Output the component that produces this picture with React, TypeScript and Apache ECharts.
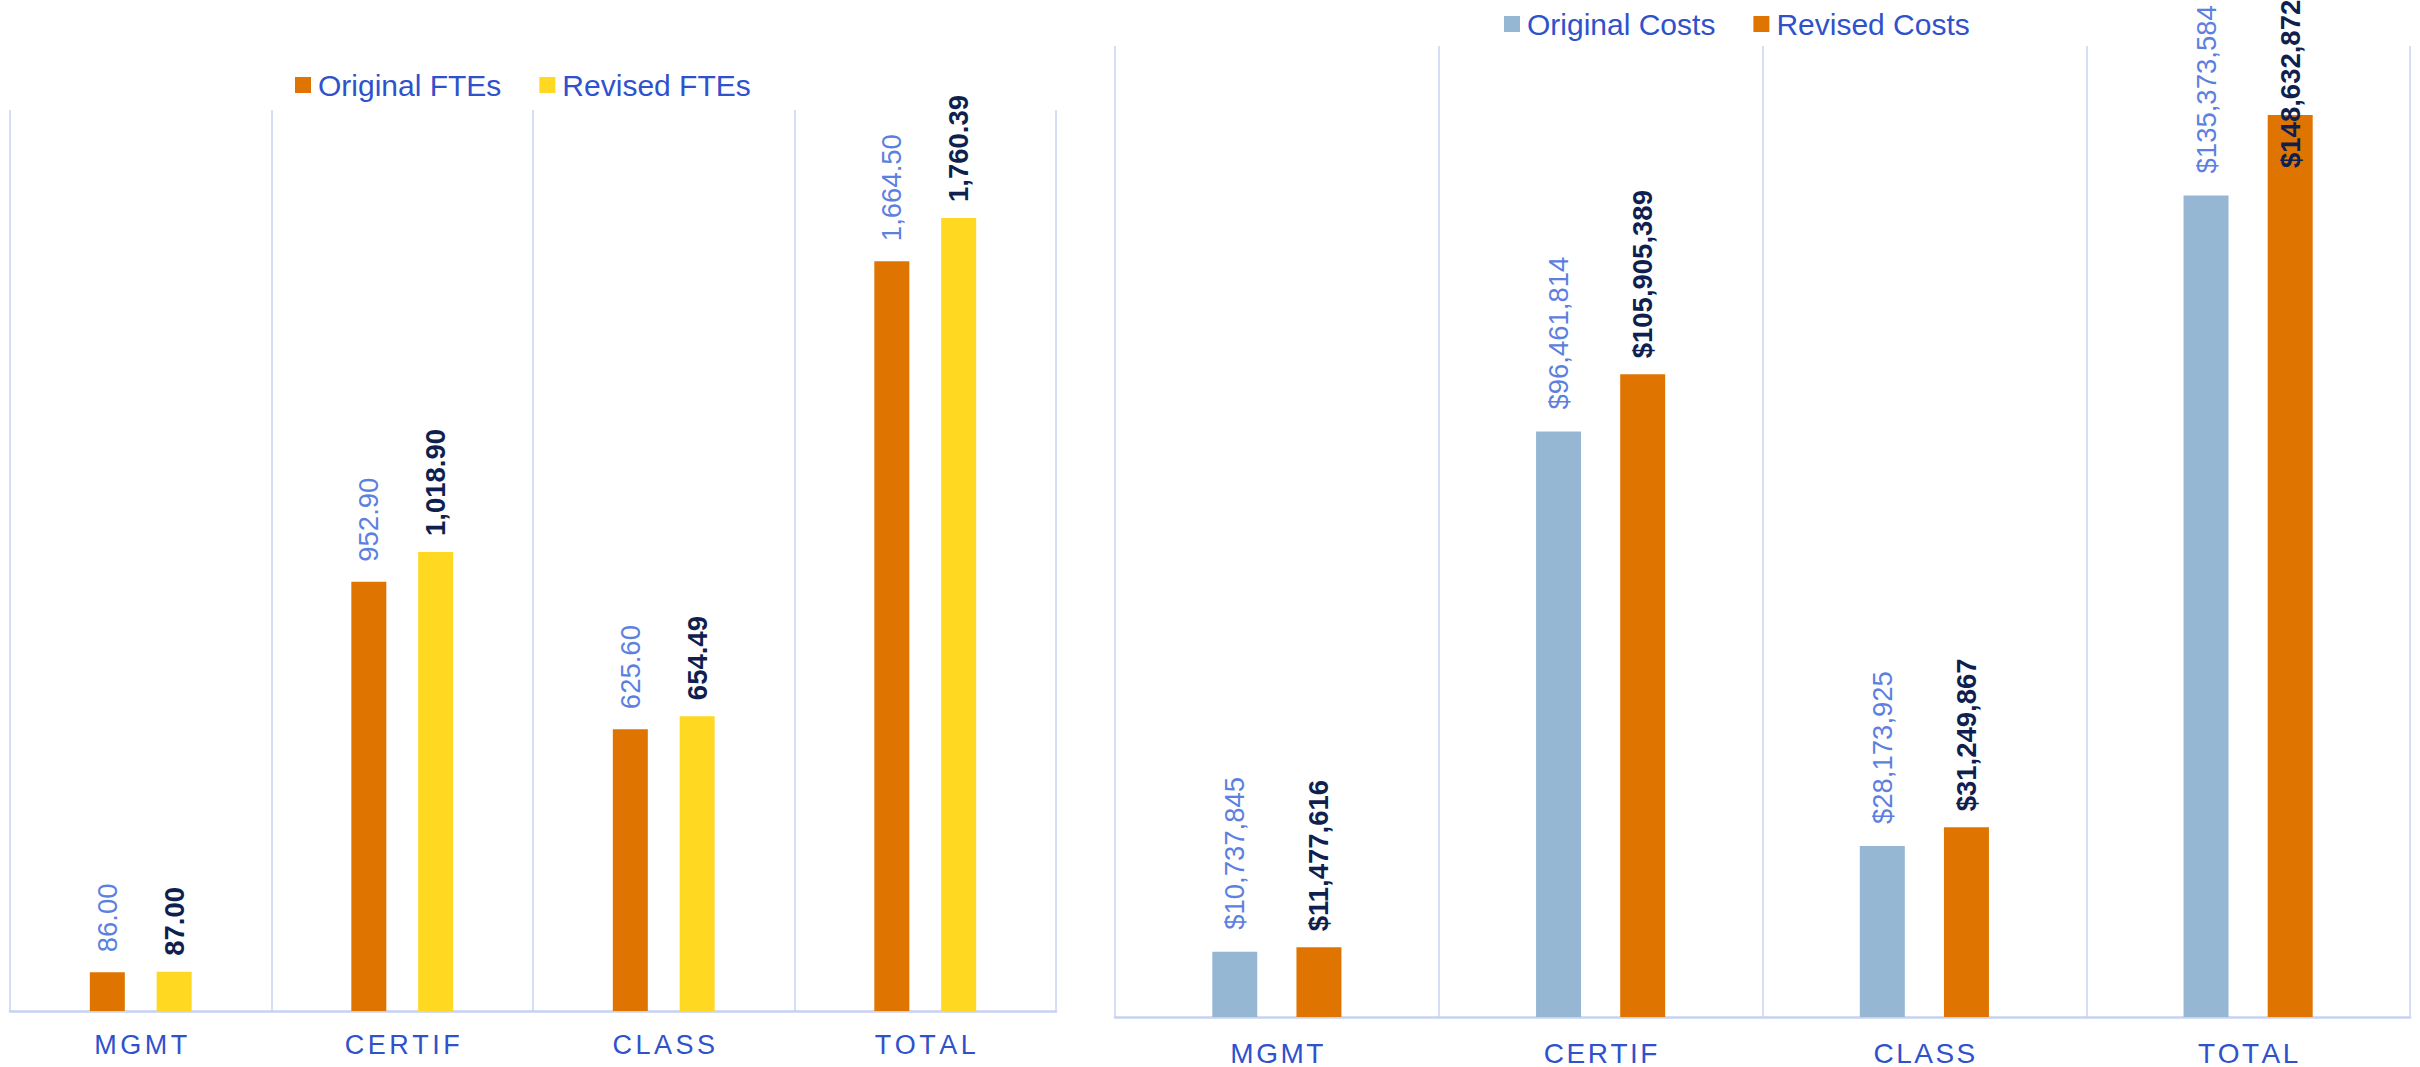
import React, { useEffect, useRef } from "react";
import * as echarts from "echarts";

const categories = ["MGMT", "CERTIF", "CLASS", "TOTAL"];
const originalFTEs = [86.0, 952.9, 625.6, 1664.5];
const revisedFTEs = [87.0, 1018.9, 654.49, 1760.39];
const originalCosts = [10737845, 96461814, 28173925, 135373584];
const revisedCosts = [11477616, 105905389, 31249867, 148632872];
const fteLegend = ["Original FTEs", "Revised FTEs"];
const costLegend = ["Original Costs", "Revised Costs"];

const FONT = "'Liberation Sans', Arial, sans-serif";
const ORANGE = "#DF7500";
const YELLOW = "#FFD822";
const LIGHTBLUE = "#95B7D3";
const ORIG_LABEL = "#5C80E0";
const REV_LABEL = "#0F1F4F";
const TEXT_BLUE = "#2F52CC";
const GRID_LINE = "#C9D3F2";
const AXIS_LINE = "#C6D2F0";

const fmtFTE = (v: number) =>
  v.toLocaleString("en-US", { minimumFractionDigits: 2, maximumFractionDigits: 2 });
const fmtCost = (v: number) => "$" + Math.round(v).toLocaleString("en-US");

function spaced(fontSize: number, gap: number) {
  return {
    formatter: (v: string) => v.split("").map((c) => `{c|${c}}`).join("{s| }"),
    rich: {
      c: { fontSize, color: TEXT_BLUE, fontFamily: FONT },
      s: { fontSize, width: gap, color: TEXT_BLUE, fontFamily: FONT },
    },
  };
}

export default function App() {
  const ref = useRef<HTMLDivElement>(null);
  useEffect(() => {
    if (!ref.current) return;
    const chart = echarts.init(ref.current, null, { renderer: "svg" });

    const barLabel = (color: string, bold: boolean, distance: number, fmt: (v: number) => string) => ({
      show: true,
      position: "top",
      rotate: 90,
      align: "left",
      verticalAlign: "middle",
      distance,
      fontSize: 27.5,
      fontFamily: FONT,
      fontWeight: bold ? "bold" : "normal",
      color,
      formatter: (p: any) => fmt(p.value as number),
    });

    const xAxisBase = (gridIndex: number, fontSize: number, gap: number, margin: number) => ({
      type: "category",
      gridIndex,
      data: categories,
      axisTick: { show: false },
      axisLine: { show: true, lineStyle: { color: AXIS_LINE, width: 2.5 } },
      splitLine: { show: true, interval: 0, lineStyle: { color: GRID_LINE, width: 1.5 } },
      axisLabel: { interval: 0, margin, ...spaced(fontSize, gap) },
    });

    const maxCostIdx = revisedCosts.indexOf(Math.max(...revisedCosts));

    chart.setOption({
      animation: false,
      backgroundColor: "#ffffff",
      legend: [
        {
          data: fteLegend,
          left: 290,
          top: 65,
          icon: "rect",
          itemWidth: 16,
          itemHeight: 16,
          itemGap: 38,
          textStyle: { fontSize: 30, color: TEXT_BLUE, fontFamily: FONT, padding: [0, 0, 0, 2] },
        },
        {
          data: costLegend,
          left: 1499,
          top: 4,
          icon: "rect",
          itemWidth: 16,
          itemHeight: 16,
          itemGap: 38,
          textStyle: { fontSize: 30, color: TEXT_BLUE, fontFamily: FONT, padding: [0, 0, 0, 2] },
        },
      ],
      grid: [
        { left: 10, top: 110, width: 1046, bottom: 56, containLabel: false },
        { left: 1115, top: 46, width: 1295, bottom: 50, containLabel: false },
      ],
      xAxis: [xAxisBase(0, 27, 3.5, 20), xAxisBase(1, 28, 2.5, 22)],
      yAxis: [
        { type: "value", gridIndex: 0, min: 0, max: 2000, show: false },
        { type: "value", gridIndex: 1, min: 0, max: 160000000, show: false },
      ],
      series: [
        {
          name: fteLegend[0],
          type: "bar",
          xAxisIndex: 0,
          yAxisIndex: 0,
          data: originalFTEs,
          barWidth: 35,
          barGap: "91%",
          itemStyle: { color: ORANGE },
          label: barLabel(ORIG_LABEL, false, 20, fmtFTE),
        },
        {
          name: fteLegend[1],
          type: "bar",
          xAxisIndex: 0,
          yAxisIndex: 0,
          data: revisedFTEs,
          barWidth: 35,
          barGap: "91%",
          itemStyle: { color: YELLOW },
          label: barLabel(REV_LABEL, true, 16, fmtFTE),
        },
        {
          name: costLegend[0],
          type: "bar",
          xAxisIndex: 1,
          yAxisIndex: 1,
          data: originalCosts,
          barWidth: 45,
          barGap: "87%",
          itemStyle: { color: LIGHTBLUE },
          label: barLabel(ORIG_LABEL, false, 22, fmtCost),
        },
        {
          name: costLegend[1],
          type: "bar",
          xAxisIndex: 1,
          yAxisIndex: 1,
          data: revisedCosts.map((v, i) =>
            i === maxCostIdx ? { value: v, label: { distance: -53 } } : v
          ),
          barWidth: 45,
          barGap: "87%",
          itemStyle: { color: ORANGE },
          label: barLabel(REV_LABEL, true, 16, fmtCost),
        },
      ],
    });
    return () => chart.dispose();
  }, []);
  return (
    <div
      ref={ref}
      style={{ position: "absolute", left: 0, top: 0, width: 2420, height: 1067 }}
    />
  );
}
